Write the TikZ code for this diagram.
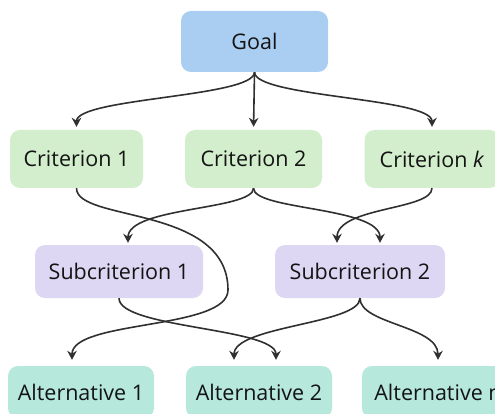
\documentclass[tikz,border=0pt]{standalone}
\usepackage{fontspec}
\setmainfont{Open Sans}
\usetikzlibrary{arrows.meta,calc}

\definecolor{goalblue}{HTML}{AACDF2}
\definecolor{critgreen}{HTML}{D3EECC}
\definecolor{subpurple}{HTML}{DDD7F3}
\definecolor{altteal}{HTML}{B6E8DC}
\definecolor{edgegray}{HTML}{303030}

\begin{document}
\begin{tikzpicture}[
    x=1pt, y=-1pt,
    font=\fontsize{21.5}{25}\selectfont,
    box/.style={rounded corners=10pt, align=center, inner sep=0pt, text=black!92},
    goalbox/.style={box, fill=goalblue, minimum width=147pt, minimum height=61pt},
    critbox/.style={box, fill=critgreen, minimum height=58pt},
    subbox/.style={box, fill=subpurple, minimum height=53pt},
    altbox/.style={box, fill=altteal, minimum height=52pt},
    arrow/.style={-{Stealth[length=9pt,width=9.5pt]}, line width=1.6pt, draw=edgegray}
]

\path[use as bounding box, clip] (0,0) rectangle (495,414);

% levels of the hierarchy
\node[goalbox] (goal) at (254.5,41.5) {Goal};

\node[critbox, minimum width=133pt] (crit1) at (76.5,159) {Criterion 1};
\node[critbox, minimum width=137pt] (crit2) at (253.5,159) {Criterion 2};
\node[critbox, minimum width=135pt] (critk) at (432,159) {Criterion \textit{k}};

\node[subbox, minimum width=168pt] (sub1) at (119,271.5) {Subcriterion 1};
\node[subbox, minimum width=170pt] (sub2) at (360,271.5) {Subcriterion 2};

\node[altbox, minimum width=146pt] (alt1) at (81,392) {Alternative 1};
\node[altbox, minimum width=146pt] (alt2) at (259,392) {Alternative 2};
\node[altbox, minimum width=152pt] (altn) at (438,392) {Alternative n};

\coordinate (bend) at (228,290);

% goal to criteria
\draw[arrow, shorten >=3pt] (goal.south) .. controls +(0,25) and +(0,-32) .. (crit1.north);
\draw[arrow, shorten >=3pt] (goal.south) -- (crit2.north);
\draw[arrow, shorten >=3pt] (goal.south) .. controls +(0,25) and +(0,-32) .. (critk.north);

% criteria to subcriteria
\draw[arrow, shorten >=2pt] (crit2.south) .. controls +(0,22) and +(0,-38) .. ([xshift=9pt]sub1.north);
\draw[arrow, shorten >=2pt] (crit2.south) .. controls +(0,22) and +(0,-38) .. ([xshift=20pt]sub2.north);
\draw[arrow, shorten >=2pt] (critk.south) .. controls +(0,22) and +(0,-38) .. ([xshift=-23pt]sub2.north);

% criterion 1 straight to alternative 1
\draw[arrow, shorten >=6pt] (crit1.south) .. controls +(0,34) and +(0,-85) .. (bend)
    .. controls +(0,40) and +(0,-46) .. ([xshift=-9pt]alt1.north);

% subcriteria to alternatives
\draw[arrow, shorten >=6pt] (sub1.south) .. controls +(0,30) and +(0,-38) .. ([xshift=17pt]alt2.north);
\draw[arrow, shorten >=6pt] (sub2.south) .. controls +(0,26) and +(0,-40) .. ([xshift=-25pt]alt2.north);
\draw[arrow, shorten >=6pt] (sub2.south) .. controls +(0,26) and +(0,-40) .. (altn.north);

\end{tikzpicture}
\end{document}
